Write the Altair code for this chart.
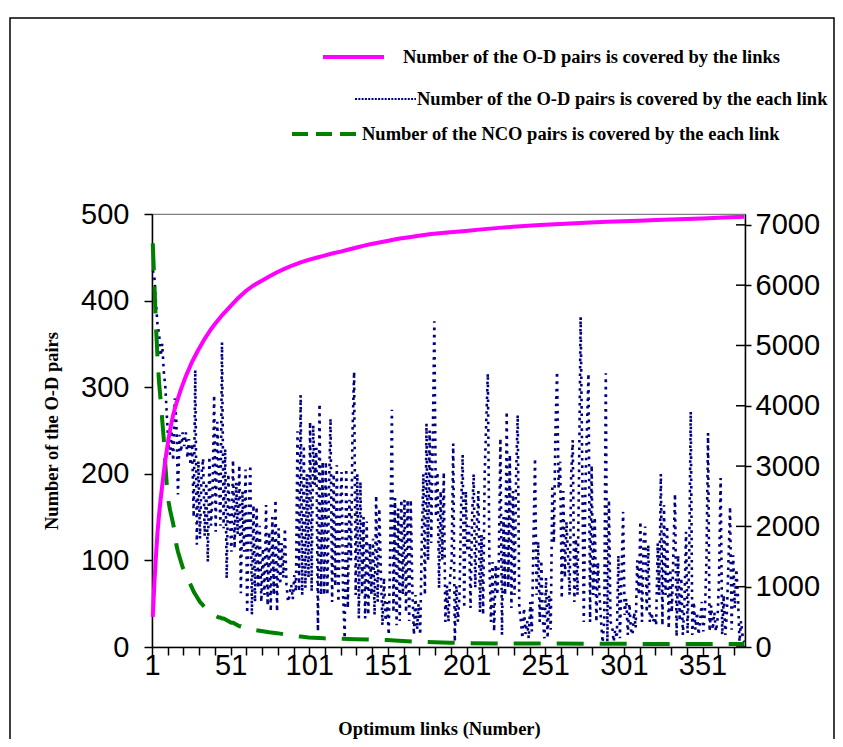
import altair as alt
import pandas as pd

# ---------------- data ----------------
# Number of the O-D pairs covered by each link (left axis), links 1..377
od_each = [
    435, 428, 398, 372, 362, 336, 350, 318, 300, 265,
    232, 222, 250, 215, 287, 260, 176, 245, 225, 248,
    232, 248, 218, 240, 210, 235, 150, 320, 118, 215,
    125, 200, 218, 128, 190, 98, 220, 140, 175, 291,
    133, 260, 200, 140, 352, 137, 229, 79, 200, 150,
    110, 216, 114, 190, 130, 210, 62, 180, 110, 205,
    39, 150, 210, 37, 164, 52, 162, 68, 140, 52,
    114, 60, 164, 48, 133, 41, 150, 60, 170, 41,
    137, 72, 120, 80, 137, 72, 52, 60, 72, 55,
    83, 64, 249, 64, 291, 60, 233, 68, 200, 80,
    260, 64, 256, 187, 230, 18, 281, 60, 214, 60,
    214, 60, 180, 264, 52, 200, 70, 210, 52, 150,
    202, 60, 10, 206, 45, 170, 100, 250, 318, 60,
    200, 33, 191, 60, 150, 33, 145, 37, 120, 60,
    125, 37, 175, 52, 160, 87, 25, 80, 30, 52,
    14, 120, 274, 40, 172, 25, 160, 30, 170, 60,
    170, 40, 170, 30, 170, 68, 14, 60, 20, 50,
    14, 120, 200, 60, 258, 100, 250, 120, 240, 376,
    150, 202, 68, 180, 100, 202, 29, 71, 29, 80,
    100, 235, 6, 71, 29, 60, 160, 222, 45, 180,
    110, 140, 45, 150, 200, 68, 140, 180, 40, 130,
    37, 200, 260, 316, 100, 29, 98, 18, 95, 60,
    100, 241, 14, 150, 60, 272, 68, 222, 45, 180,
    60, 200, 268, 45, 30, 10, 45, 15, 30, 10,
    52, 18, 120, 218, 60, 122, 29, 100, 30, 10,
    80, 10, 60, 20, 187, 120, 250, 318, 183, 214,
    56, 180, 80, 145, 106, 60, 200, 239, 52, 125,
    60, 200, 381, 214, 29, 180, 250, 316, 29, 210,
    60, 150, 29, 98, 60, 29, 5, 29, 316, 2,
    170, 29, 25, 6, 20, 10, 106, 10, 80, 156,
    37, 56, 14, 50, 20, 14, 40, 22, 100, 60,
    145, 29, 120, 139, 40, 118, 29, 40, 29, 35,
    25, 120, 60, 200, 25, 164, 60, 140, 21, 90,
    40, 110, 177, 12, 106, 30, 80, 14, 50, 133,
    16, 100, 272, 14, 52, 20, 40, 14, 30, 52,
    18, 40, 100, 247, 18, 48, 20, 40, 18, 30,
    80, 195, 14, 60, 14, 40, 100, 162, 20, 106,
    45, 90, 60, 6, 30, 12, 6,
]
od_links = list(range(1, len(od_each) + 1))

# Number of the NCO pairs covered by each link (left axis)
nco_links = [
    1, 2, 3, 4, 5, 6, 7, 8, 9, 10,
    11, 12, 13, 14, 15, 16, 17, 18, 19, 20,
    21, 22, 23, 24, 25, 26, 27, 28, 29, 30,
    31, 32, 33, 34, 35, 36, 37, 38, 39, 40,
    41, 42, 43, 44, 45, 46, 47, 48, 49, 50,
    51, 52, 53, 54, 55, 56, 57, 58, 59, 60,
    65, 70, 75, 80, 85, 90, 95, 100, 110, 120,
    130, 140, 150, 160, 170, 180, 190, 200, 220, 250,
    280, 310, 340, 377,
]
nco_each = [
    466, 420, 372, 335, 305, 285, 262, 240, 210, 185,
    168, 158, 150, 142, 132, 118, 110, 104, 98, 92,
    88, 84, 80, 76, 72, 68, 64, 61, 58, 55,
    52, 50, 48, 46, 44, 42, 40, 39, 38, 37,
    36, 35, 34, 34, 33, 33, 32, 31, 30, 29,
    28, 28, 27, 26, 25, 24, 24, 23, 22, 22,
    20, 18.5, 17, 16, 14.5, 13, 12, 11, 10, 9.5,
    9, 8.5, 8, 7, 6, 5.5, 5, 4.5, 4, 4,
    3.8, 3.6, 3.5, 3.5,
]

# Number of the O-D pairs covered by the links (cumulative, right axis)
cum_links = [
    1, 2, 3, 4, 5, 6, 7, 8, 9, 10,
    11, 12, 13, 14, 15, 16, 17, 18, 19, 20,
    21, 22, 23, 24, 25, 26, 27, 28, 29, 30,
    31, 32, 33, 34, 35, 36, 37, 38, 39, 40,
    45, 50, 55, 60, 65, 70, 75, 80, 85, 90,
    95, 100, 105, 110, 115, 121, 125, 130, 136, 140,
    145, 150, 157, 165, 170, 178, 185, 190, 200, 210,
    221, 230, 242, 250, 260, 270, 279, 290, 300, 310,
    321, 330, 340, 350, 364, 377,
]
cum_pairs = [
    500, 1050, 1500, 1900, 2200, 2450, 2680, 2900, 3100, 3280,
    3450, 3600, 3730, 3850, 3950, 4040, 4120, 4200, 4280, 4350,
    4420, 4490, 4550, 4610, 4670, 4730, 4780, 4830, 4880, 4930,
    4975, 5020, 5065, 5110, 5150, 5190, 5230, 5270, 5305, 5340,
    5500, 5640, 5780, 5900, 5995, 6070, 6145, 6215, 6275, 6330,
    6378, 6420, 6455, 6490, 6525, 6560, 6587, 6620, 6660, 6682,
    6708, 6733, 6770, 6800, 6820, 6850, 6866, 6878, 6900, 6925,
    6950, 6967, 6990, 7000, 7014, 7028, 7040, 7050, 7060, 7070,
    7080, 7088, 7097, 7107, 7120, 7135,
]

left_ticks = [0, 100, 200, 300, 400, 500]
right_ticks = [0, 1000, 2000, 3000, 4000, 5000, 6000, 7000]
x_tick_pos = [0.5, 10.5, 20.5, 30.5, 40.5, 50.5, 60.5, 70.5, 80.5, 90.5,
              100.5, 110.5, 120.5, 130.5, 140.5, 150.5, 160.5, 170.5, 180.5,
              190.5, 200.5, 210.5, 220.5, 230.5, 240.5, 250.5, 260.5, 270.5,
              280.5, 290.5, 300.5, 310.5, 320.5, 330.5, 340.5, 350.5, 360.5,
              370.5]
x_labels = [1, 51, 101, 151, 201, 251, 301, 351]

legend_labels = [
    "Number of the O-D pairs is covered by the links",
    "Number of the O-D pairs is covered by the each link",
    "Number of the NCO pairs is covered by the each link",
]
x_title = "Optimum links (Number)"
y_title = "Number of the O-D pairs"

# ---------------- styling ----------------
MAGENTA = "#FF00FF"
NAVY = "#000080"
GREEN = "#008000"
NUM_FONT = "Liberation Sans, Arial, sans-serif"
SERIF = "Liberation Serif, Times New Roman, serif"
NUM_SIZE = 29
TXT_SIZE = 18.5
W, H = 593, 433
X_DOMAIN = [0.5, 377.5]
LEFT_DOMAIN = [0, 500]
RIGHT_DOMAIN = [0, 7180]
BLUE_DASH = [2.6, 4.8]
BLUE_KEY_DASH = [2, 1.3]
GREEN_DASH = [27, 16]
GREEN_KEY_DASH = [16, 8]

xscale = alt.Scale(domain=X_DOMAIN, nice=False, zero=False)
lscale = alt.Scale(domain=LEFT_DOMAIN, nice=False, zero=False)
rscale = alt.Scale(domain=RIGHT_DOMAIN, nice=False, zero=False)

blue_df = pd.DataFrame({"link": od_links, "pairs": od_each})
green_df = pd.DataFrame({"link": nco_links, "pairs": nco_each})
mag_df = pd.DataFrame({"link": cum_links, "cum": cum_pairs})

label_expr = ("indexof([" + ",".join(str(v) for v in x_labels) +
              "], datum.value + 0.5) >= 0 ? format(datum.value + 0.5, 'd') : ''")

AX_COMMON = dict(
    grid=False, domainColor="black", domainWidth=1.5,
    tickColor="black", tickWidth=1.5,
    labelFont=NUM_FONT, labelFontSize=NUM_SIZE, labelColor="black",
    titleColor="black", titleFont=SERIF, titleFontWeight="bold",
    titleFontSize=TXT_SIZE,
)

x_axis = alt.Axis(
    values=x_tick_pos, labelExpr=label_expr, title=x_title,
    tickSize=8, labelPadding=-4, labelFlush=False, labelOverlap=False,
    titleX=287, titleY=81, titleBaseline="middle", titleAlign="center",
    **AX_COMMON,
)
X = alt.X("link:Q", scale=xscale, axis=x_axis)

blue = alt.Chart(blue_df).mark_line(
    color=NAVY, strokeWidth=2.6, strokeDash=BLUE_DASH, strokeCap="butt"
).encode(
    x=X,
    y=alt.Y("pairs:Q", scale=lscale, axis=alt.Axis(
        orient="left", values=left_ticks, title=y_title, tickSize=8,
        labelPadding=15, titleX=-101, titleY=216.5, titleAngle=270,
        titleBaseline="middle", titleAlign="center", **AX_COMMON,
    )),
)

green = alt.Chart(green_df).mark_line(
    color=GREEN, strokeWidth=4, strokeDash=GREEN_DASH, strokeCap="butt"
).encode(
    x=X,
    y=alt.Y("pairs:Q", scale=lscale, axis=None),
)

mag = alt.Chart(mag_df).mark_line(
    color=MAGENTA, strokeWidth=4
).encode(
    x=X,
    y=alt.Y("cum:Q", scale=rscale, axis=alt.Axis(
        orient="right", values=right_ticks, title=None, tickSize=6,
        labelPadding=4, format="d", **AX_COMMON,
    )),
)

# inward half of the crossing tick marks on the right axis
rtick_df = pd.DataFrame({"v": right_ticks})
rticks = alt.Chart(rtick_df).mark_rule(color="black", strokeWidth=1.5).encode(
    y=alt.Y("v:Q", scale=rscale, axis=None),
    x=alt.value(W - 9), x2=alt.value(W),
)

# outer frame of the chart
one = pd.DataFrame({"k": [0]})
frame = alt.Chart(one).mark_rect(fill=None, stroke="black", strokeWidth=1.5).encode(
    x=alt.value(-142), x2=alt.value(682), y=alt.value(-196), y2=alt.value(560)
)

# manual legend (keys + labels)
leg_rows = [
    # (key x0, key x1, y, text x, color, dash, width)
    (171, 232, -157, 251, MAGENTA, None, 4),
    (203, 264, -115, 265, NAVY, BLUE_KEY_DASH, 2.2),
    (140, 204, -80, 210, GREEN, GREEN_KEY_DASH, 4),
]
legend_layers = []
for (x0, x1, yy, tx, col, dash, sw), lab in zip(leg_rows, legend_labels):
    kw = dict(color=col, strokeWidth=sw, strokeCap="butt")
    if dash:
        kw["strokeDash"] = dash
    legend_layers.append(
        alt.Chart(one).mark_rule(**kw).encode(
            x=alt.value(x0), x2=alt.value(x1), y=alt.value(yy)
        )
    )
    legend_layers.append(
        alt.Chart(one).mark_text(
            text=lab, align="left", baseline="middle", font=SERIF,
            fontWeight="bold", fontSize=TXT_SIZE, color="black",
        ).encode(x=alt.value(tx), y=alt.value(yy))
    )

chart = alt.layer(
    frame, blue, green, mag, rticks, *legend_layers
).resolve_scale(
    y="independent"
).properties(
    width=W, height=H,
    background="white",
    autosize=alt.AutoSizeParams(type="none"),
    padding={"left": 144, "top": 206, "right": 90, "bottom": 92},
).configure_view(
    stroke="#808080", strokeWidth=1.2,
)

chart.save("out.html", embed_options={"renderer": "svg", "actions": False})
